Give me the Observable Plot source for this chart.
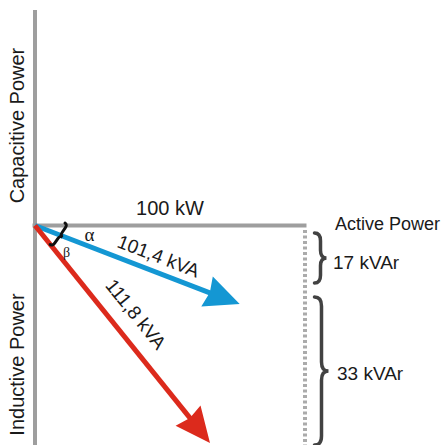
<!DOCTYPE html>
<html><head><meta charset="utf-8">
<script src="https://cdn.jsdelivr.net/npm/d3@7"></script>
<script src="https://cdn.jsdelivr.net/npm/@observablehq/plot@0.6"></script>
<style>html,body{margin:0;padding:0;background:#fff} svg{display:block}</style>
</head><body>
<script>
// Schematic power diagram. Diagram units: 100 = active power (kW), same unit on both axes.
const activePower = 100;
const activeLabel = "100 kW";
const axisLabels = ["Capacitive Power", "Inductive Power"];
const activeAxisLabel = "Active Power";
const axisExtent = [-81.5, 79.6];           // bottom (inductive) .. top (capacitive)
const vectorLabels = ["101,4 kVA", "111,8 kVA"];
const vectorTipX = [76, 65];                 // schematic tips (not to scale)
const vectorTipY = [-29.3, -80.7];
const angleLabels = ["α", "β"];
const reactiveLabels = ["17 kVAr", "33 kVAr"];
const reactiveFrom = [-3, -26.7];
const reactiveTo = [-21.5, -81.5];

const W = 445, H = 445;
const xDomain = [-12.78, 152.04];
const yDomain = [-81.48, 83.33];
const kx = W / (xDomain[1] - xDomain[0]);
const ky = H / (yDomain[1] - yDomain[0]);
const vectorColors = ["#1497d3", "#dc2a1c"];
const idx = d3.range(vectorLabels.length);
const angleDeg = i => Math.atan2(-vectorTipY[i] * ky, vectorTipX[i] * kx) * 180 / Math.PI;
const font = "Liberation Sans, Arial, Helvetica, sans-serif";

function bracePath(p1, p2, w) {
  const dx = p2[0] - p1[0], dy = p2[1] - p1[1], L = Math.hypot(dx, dy);
  const u = [dx / L, dy / L], n = [u[1], -u[0]];
  const P = (s, t) => [p1[0] + s * u[0] + t * n[0], p1[1] + s * u[1] + t * n[1]];
  const h = w / 2, r = Math.min(h * 1.3, L / 5);
  const p = d3.path();
  p.moveTo(...P(0, 0));
  p.quadraticCurveTo(...P(0, h), ...P(r, h));
  p.lineTo(...P(L / 2 - r, h));
  p.quadraticCurveTo(...P(L / 2, h), ...P(L / 2, w));
  p.quadraticCurveTo(...P(L / 2, h), ...P(L / 2 + r, h));
  p.lineTo(...P(L - r, h));
  p.quadraticCurveTo(...P(L, h), ...P(L, 0));
  return p.toString();
}

function heads(index, scales) {
  const g = d3.create("svg:g");
  const x0 = scales.x(0), y0 = scales.y(0);
  idx.forEach(i => {
    const x1 = scales.x(vectorTipX[i]), y1 = scales.y(vectorTipY[i]);
    const a = Math.atan2(y1 - y0, x1 - x0);
    const L = 35, HW = 16, notch = 3;
    const c = Math.cos(a), s = Math.sin(a), nx = -s, ny = c;
    const bx = x1 - L * c, by = y1 - L * s;
    const mx = x1 - (L - notch) * c, my = y1 - (L - notch) * s;
    g.append("path")
      .attr("d", `M${x1},${y1}L${bx + HW * nx},${by + HW * ny}L${mx},${my}L${bx - HW * nx},${by - HW * ny}Z`)
      .attr("fill", vectorColors[i]);
  });
  return g.node();
}

function braces(index, scales) {
  const g = d3.create("svg:g").attr("fill", "none").attr("stroke-linecap", "round");
  const bxp = scales.x(activePower) + 10;
  reactiveLabels.forEach((_, i) => {
    g.append("path")
      .attr("d", bracePath([bxp, scales.y(reactiveFrom[i])], [bxp, scales.y(reactiveTo[i])], 12 + i * 2))
      .attr("stroke", "#424242").attr("stroke-width", 3.5);
  });
  // angle brace near origin
  const x0 = scales.x(0), y0 = scales.y(0);
  const xr = scales.x(vectorTipX[1]), yr = scales.y(vectorTipY[1]);
  const lr = Math.hypot(xr - x0, yr - y0);
  const p1 = [x0 + 30.5, y0 - 2];
  const p2 = [x0 + 25 * (xr - x0) / lr, y0 + 25 * (yr - y0) / lr];
  g.append("path").attr("d", bracePath(p1, p2, 6))
    .attr("stroke", "#111").attr("stroke-width", 3);
  return g.node();
}

const plot = Plot.plot({
  width: W, height: H,
  margin: 0,
  x: {domain: xDomain, axis: null},
  y: {domain: yDomain, axis: null},
  color: {domain: vectorLabels, range: vectorColors},
  marks: [
    Plot.ruleX([0], {y1: axisExtent[0], y2: axisExtent[1], stroke: "#9e9e9e", strokeWidth: 4}),
    Plot.ruleY([0], {x1: 0, x2: activePower, stroke: "#9e9e9e", strokeWidth: 4, strokeLinecap: "square"}),
    Plot.ruleX([activePower], {y1: 0, y2: axisExtent[0], insetTop: 5, stroke: "#ababab", strokeWidth: 4, strokeDasharray: "3 2.5"}),
    Plot.arrow(idx, {x1: 0, y1: 0, x2: i => vectorTipX[i], y2: i => vectorTipY[i],
      stroke: i => vectorLabels[i], strokeWidth: 5, headLength: 0, insetEnd: 20, strokeLinecap: "butt"}),
    heads,
    braces,
    Plot.text([axisLabels[0]], {x: 0, y: axisExtent[1] / 2, text: d => d, rotate: -90, dx: -17, dy: 7.5,
      fontSize: 20, fontFamily: font, fill: "#1a1a1a"}),
    Plot.text([axisLabels[1]], {x: 0, y: axisExtent[0] / 2, text: d => d, rotate: -90, dx: -17, dy: 29,
      fontSize: 20, fontFamily: font, fill: "#1a1a1a"}),
    Plot.text([activeLabel], {x: activePower / 2, y: 0, text: d => d, dy: -17,
      fontSize: 20, fontFamily: font, fill: "#1a1a1a"}),
    Plot.text([activeAxisLabel], {x: activePower, y: 0, text: d => d, dx: 30, dy: -1, textAnchor: "start",
      fontSize: 18, fontFamily: font, fill: "#1a1a1a"}),
    Plot.text(idx, {x: i => vectorTipX[i] / 2, y: i => vectorTipY[i] / 2, text: i => vectorLabels[i],
      rotate: angleDeg, dx: 0, dy: 0, fontSize: 19, fontFamily: font, fill: "#1a1a1a",
      render: (index, scales, values, dims, ctx, next) => {
        const node = next(index, scales, values, dims, ctx);
        const offs = [[20.75, -8.5], [12.75, -20]];
        d3.select(node).selectAll("text").each(function(d, j) {
          const t = this.getAttribute("transform");
          const i = index[j];
          this.setAttribute("transform", `translate(${offs[i][0]},${offs[i][1]}) ` + t);
        });
        return node;
      }}),
    ...reactiveLabels.map((lab, i) => Plot.text([lab], {x: activePower, y: (reactiveFrom[i] + reactiveTo[i]) / 2,
      text: d => d, dx: 28 + i * 4, dy: 4 - i * 2, textAnchor: "start", fontSize: 19, fontFamily: font, fill: "#1a1a1a"})),
    Plot.text([angleLabels[0]], {x: 0, y: 0, text: d => d, dx: 54.5, dy: 9, fontSize: 19,
      fontFamily: "Liberation Serif, DejaVu Serif, serif", fill: "#1a1a1a"}),
    Plot.text([angleLabels[1]], {x: 0, y: 0, text: d => d, dx: 31.5, dy: 27, fontSize: 14,
      fontFamily: "Liberation Serif, DejaVu Serif, serif", fill: "#1a1a1a"})
  ]
});
document.body.appendChild(plot);
</script>
</body></html>
